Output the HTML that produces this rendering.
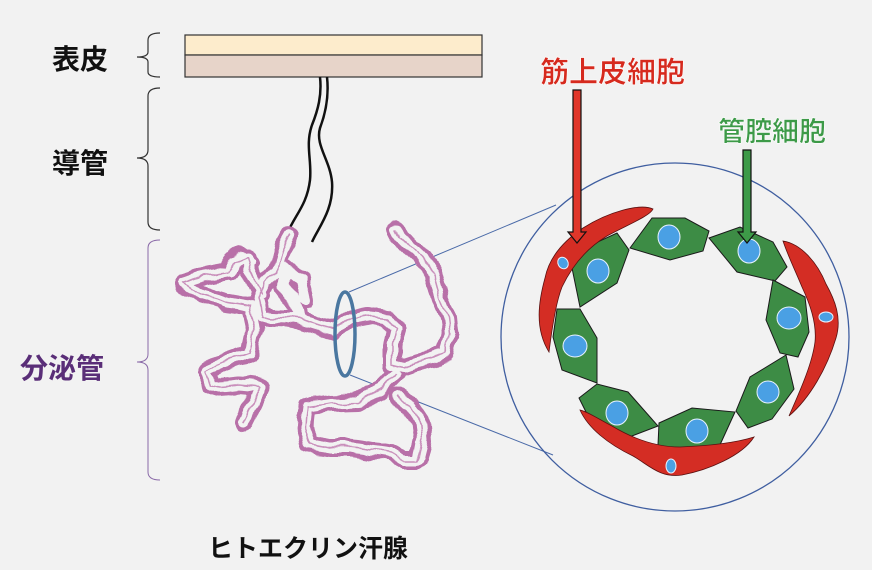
<!DOCTYPE html>
<html><head><meta charset="utf-8"><style>
html,body{margin:0;padding:0;background:#f2f2f2;}
svg{display:block;}
text{font-family:"Liberation Sans","Noto Sans CJK JP",sans-serif;font-weight:bold;}
</style></head><body>
<svg width="872" height="570" viewBox="0 0 872 570" xmlns="http://www.w3.org/2000/svg">
<defs>
<filter id="wob" x="-10%" y="-10%" width="120%" height="120%">
<feTurbulence type="fractalNoise" baseFrequency="0.045" numOctaves="2" seed="3"/>
<feDisplacementMap in="SourceGraphic" scale="10" xChannelSelector="R" yChannelSelector="G"/>
</filter>
</defs>
<rect width="872" height="570" fill="#f2f2f2"/>
<text x="52" y="69" font-size="28" fill="#111">表皮</text>
<text x="52" y="173" font-size="28" fill="#111">導管</text>
<text x="20" y="378" font-size="28" fill="#5a2e78">分泌管</text>
<text x="208" y="557" font-size="25" fill="#111">ヒトエクリン汗腺</text>
<text x="540" y="82" font-size="29" fill="#d62a1e" stroke="#fff" stroke-width="0.6">筋上皮細胞</text>
<text x="718" y="141" font-size="27" fill="#3d9a48" stroke="#fff" stroke-width="0.6">管腔細胞</text>
<g fill="none" stroke="#333" stroke-width="1.2">
<path d="M160,33 Q148,33 148,40 L148,52 Q148,57 137,57 Q148,57 148,62 L148,72 Q148,77 160,77"/>
<path d="M160,88 Q148,88 148,96 L148,150 Q148,158 137,158 Q148,158 148,166 L148,222 Q148,230 160,230"/>
</g>
<path d="M160,240 Q148,240 148,248 L148,354 Q148,362 137,362 Q148,362 148,370 L148,472 Q148,480 160,480" fill="none" stroke="#8a6aa8" stroke-width="1"/>
<rect x="185" y="35" width="297" height="20" fill="#fdeccc" stroke="#333" stroke-width="1.2"/>
<rect x="185" y="55" width="297" height="22" fill="#e7d4c9" stroke="#333" stroke-width="1.2"/>
<g fill="none" stroke="#111" stroke-width="2.5">
<path d="M320,77 C322,95 318,110 312,125 C305,145 312,160 310,180 C307,205 295,215 288,232"/>
<path d="M327,77 C329,95 326,112 320,128 C315,145 330,160 332,182 C334,210 318,228 312,242"/>
</g>
<g stroke="#4a6aa8" stroke-width="1" fill="none">
<line x1="349" y1="292" x2="556" y2="205"/>
<line x1="350" y1="375" x2="553" y2="455"/>
</g>
<g fill="none" stroke-linejoin="round" stroke-linecap="round" filter="url(#wob)">
<g stroke="#b86fa8" stroke-width="18">
<path id="c1" d="M290,236 L282,250 L276,272 L265,282 L258,300 L262,317 L285,318 L300,320 L320,326 L335,330 L350,320 L370,316 L385,318 L397,328 L393,345 L393,363 L405,366 L417,362 L432,358 L445,352 L450,335 L448,318 L440,298 L433,272 L422,258 L410,247 L400,238 L396,230"/>
<path id="c2" d="M262,295 L250,270 L247,257 L235,262 L227,272 L205,276 L183,283 L200,295 L227,303 L250,307 L255,330 L250,353 L225,362 L207,370 L212,385 L220,387 L240,385 L260,387 L252,405 L243,423"/>
<path id="c3" d="M397,373 L380,390 L357,403 L330,404 L307,407 L305,425 L310,443 L330,447 L350,447 L370,450 L390,453 L405,460 L417,460 L422,440 L420,420 L410,405 L397,397"/>
<path id="c4" d="M300,320 L295,300 L283,285 L285,268 L300,280 L305,300"/>
<path id="c5" d="M232,272 L240,255 L250,262"/>
</g>
<g stroke="#f2f2f2" stroke-width="10">
<use href="#c1"/><use href="#c2"/><use href="#c3"/><use href="#c4"/><use href="#c5"/>
</g>
<g stroke="#c98fbb" stroke-width="1.5">
<use href="#c1"/><use href="#c2"/><use href="#c3"/>
</g>
</g>
<ellipse cx="345" cy="334" rx="10" ry="42" fill="none" stroke="#4a77a0" stroke-width="3.5"/>
<circle cx="675" cy="337" r="174" fill="none" stroke="#3f5ea0" stroke-width="1.3"/>
<g fill="#3d8c45" stroke="#1a1a1a" stroke-width="1">
<polygon points="630,248 652,218 685,218 709,231 703,251 670,260"/>
<polygon points="709,238 740,227 773,242 787,267 775,281 737,272"/>
<polygon points="773,280 805,297 809,332 798,357 780,353 766,320"/>
<polygon points="786,355 794,389 772,419 748,428 736,411 750,377"/>
<polygon points="659,423 692,408 735,412 719,447 687,453 658,445"/>
<polygon points="579,398 597,384 628,392 658,426 624,439 590,420"/>
<polygon points="557,309 580,309 597,338 597,383 562,370 553,337"/>
<polygon points="572,268 591,245 617,233 629,250 617,283 580,307"/>
</g>
<g fill="#4aa0e4" stroke="#e8f2ff" stroke-width="1">
<ellipse cx="669" cy="237" rx="11" ry="12"/>
<ellipse cx="749" cy="251" rx="11" ry="12"/>
<ellipse cx="789" cy="318" rx="12" ry="11"/>
<ellipse cx="768" cy="392" rx="11" ry="11"/>
<ellipse cx="697" cy="431" rx="11" ry="12"/>
<ellipse cx="617" cy="413" rx="11" ry="12"/>
<ellipse cx="575" cy="346" rx="12" ry="11"/>
<ellipse cx="598" cy="271" rx="11" ry="12"/>
</g>
<g fill="#d42d24" stroke="#5a1010" stroke-width="0.8">
<path d="M653,209 C640,203 608,212 583,228 C562,242 549,258 545,278 C539,300 534,328 549,352 C552,328 556,302 562,287 C572,266 587,248 607,236 C627,225 650,216 653,209 Z"/>
<path d="M783,241 C802,244 818,264 826,284 C835,300 842,318 836,338 C827,368 810,398 789,416 C799,393 812,365 815,342 C817,322 809,302 802,287 C795,270 788,256 783,241 Z"/>
<path d="M580,410 C588,428 608,444 633,456 C650,466 660,478 682,475 C708,470 742,456 754,437 C735,443 705,446 680,447 C655,447 632,438 612,426 C597,418 586,411 580,410 Z"/>
</g>
<g fill="#4aa0e4" stroke="#e8f2ff" stroke-width="1">
<ellipse cx="563" cy="263" rx="5" ry="6" transform="rotate(-30 563 263)"/>
<ellipse cx="826" cy="317" rx="7" ry="5"/>
<ellipse cx="671" cy="466" rx="5" ry="7"/>
</g>
<g stroke="#111" stroke-width="1.2">
<polygon points="573,90 581,90 581,232 586,232 577,243 568,232 573,232" fill="#e0362a"/>
<polygon points="743,150 751,150 751,232 756,232 747,243 738,232 743,232" fill="#3d9a48"/>
</g>
</svg>
</body></html>
